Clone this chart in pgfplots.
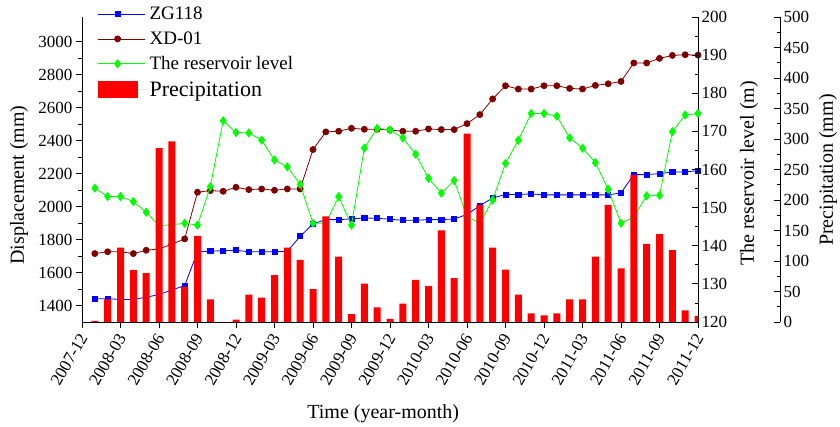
\documentclass[border=0pt]{standalone}
\usepackage{fontspec}
\setmainfont{Liberation Serif}
\usepackage{pgfplots}
\usepackage{pgfplotstable}
\pgfplotsset{compat=1.18}

% Monthly monitoring record, 2008-01 (month 1) to 2011-12 (month 48)
\pgfplotstableread{
month zg   xd   res   pre
1     1441 1715 155.1 2
2     1441 1726 152.9 37
3     1437 1726 152.9 122
4     1437 1715 151.6 85
5     1450 1735 148.8 80
6     1467 1743 145.3 285
7     1494 1772 145.5 296
8     1521 1804 145.9 58
9     1726 2087 145.4 141
10    1729 2097 155.5 37
11    1733 2093 172.8 0
12    1735 2117 169.7 4
13    1726 2103 169.6 45
14    1726 2107 167.7 40
15    1726 2099 162.5 77
16    1729 2107 160.7 122
17    1820 2107 156.1 102
18    1895 2346 145.9 54
19    1921 2453 145.9 173
20    1921 2457 152.9 107
21    1925 2475 145.4 13
22    1931 2469 165.6 63
23    1929 2469 170.8 24
24    1923 2465 170.4 5
25    1917 2457 168.3 30
26    1917 2457 164.0 69
27    1921 2471 157.7 59
28    1921 2467 153.8 150
29    1925 2467 157.1 72
30    1952 2503 147.6 309
31    2006 2558 146.0 192
32    2053 2653 152.0 122
33    2073 2733 161.6 86
34    2073 2713 167.7 45
35    2077 2713 174.7 14
36    2071 2733 174.7 11
37    2071 2733 174.0 14
38    2071 2717 168.3 37
39    2071 2713 165.6 37
40    2071 2735 161.8 107
41    2071 2745 154.8 192
42    2083 2759 145.9 88
43    2194 2871 147.6 241
44    2194 2871 153.1 128
45    2200 2899 153.2 144
46    2210 2917 169.9 118
47    2210 2921 174.3 19
48    2218 2919 174.7 10
}\monitoring

\definecolor{zgblue}{RGB}{0,0,255}
\definecolor{xdred}{RGB}{128,0,0}
\definecolor{reslime}{RGB}{0,255,0}
\definecolor{prered}{RGB}{255,0,0}

\newcommand{\tickfont}{\rmfamily\fontsize{17}{20}\selectfont}
\newcommand{\labelfont}{\rmfamily\fontsize{20}{24}\selectfont}

\pgfplotsset{
  frame/.style={
    scale only axis, width=616pt, height=305pt,
    xmin=0, xmax=48,
    anchor=south west,
    major tick length=6pt, minor tick length=3.5pt,
    every tick/.style={black, line width=0.8pt},
    axis line style={black, line width=0.9pt},
    tick label style={font=\tickfont},
    /pgf/number format/assume math mode=true,
    /pgf/number format/1000 sep={},
  },
  series/.style={line width=0.8pt, #1, mark options={fill=#1, draw=#1, solid}},
}

\begin{document}
\begin{tikzpicture}

% Displacement of the two monitoring points
\begin{axis}[frame, at={(0pt,0pt)},
  axis lines*=left, tick align=outside,
  ymin=1300, ymax=3150,
  ytick={1400,1600,...,3000}, minor y tick num=1,
  xtick={0,3,...,48},
  xticklabels={2007-12,2008-03,2008-06,2008-09,2008-12,2009-03,2009-06,2009-09,
    2009-12,2010-03,2010-06,2010-09,2010-12,2011-03,2011-06,2011-09,2011-12},
  xticklabel style={yshift=-4pt, xshift=3pt, rotate=60, anchor=east},
  xlabel={Time (year-month)},
  xlabel style={font=\labelfont, at={(axis description cs:0.489,-0.302)}, anchor=center},
  ylabel={Displacement (mm)},
  ylabel style={font=\labelfont, at={(axis description cs:-0.102,0.449)}, anchor=center},
  clip mode=individual,
]
\addplot[series=zgblue, mark=square*, mark size=2.6pt] table[x=month, y=zg] {\monitoring};
\addplot[series=xdred, mark=*, mark size=3pt] table[x=month, y=xd] {\monitoring};
\end{axis}

% Reservoir water level
\begin{axis}[frame, at={(0pt,0pt)},
  hide x axis, axis y line*=right, tick align=inside,
  ymin=120, ymax=200,
  ytick={120,130,...,200}, minor y tick num=1,
  ylabel={The reservoir level (m)},
  ylabel style={font=\labelfont, at={(axis description cs:1.083,0.487)}, anchor=center},
  clip mode=individual,
]
\addplot[series=reslime, mark=diamond*, mark size=4pt] table[x=month, y=res] {\monitoring};
\end{axis}

% Monthly precipitation bars, drawn over the curves
\begin{axis}[frame, at={(0pt,0pt)},
  hide axis, ymin=0, ymax=500,
  legend cell align=left,
  legend style={draw=none, fill=none, font=\rmfamily\fontsize{19}{22}\selectfont,
    at={(rel axis cs:0,1)}, anchor=north west, xshift=13pt, yshift=14pt,
    row sep=6.5pt, inner sep=2pt},
  legend image code/.code={\draw[mark repeat=2, mark phase=2, #1]
    plot coordinates {(0pt,0pt) (20pt,0pt) (40pt,0pt)};
    \path (0pt,0pt) -- (47pt,0pt);},
]
\addlegendimage{series=zgblue, mark=square*, mark size=2.6pt}
\addlegendentry{ZG118}
\addlegendimage{series=xdred, mark=*, mark size=3pt}
\addlegendentry{XD-01}
\addlegendimage{series=reslime, mark=diamond*, mark size=4pt}
\addlegendentry{The reservoir level}
\addplot[ybar, bar width=7pt, fill=prered, draw=none,
  legend image code/.code={\fill[prered] (0pt,-8.5pt) rectangle (40pt,8.5pt);
    \path (0pt,0pt) -- (50pt,0pt);}]
  table[x=month, y=pre] {\monitoring};
\addlegendentry{\fontsize{22}{24}\selectfont Precipitation}
\end{axis}

% Separate scale for precipitation
\begin{axis}[frame, at={(82pt,0pt)},
  hide x axis, axis y line*=right, tick align=inside,
  ymin=0, ymax=500,
  ytick={0,50,...,500}, minor y tick num=1,
  ylabel={Precipitation (mm)},
  ylabel style={font=\labelfont, at={(axis description cs:1.078,0.498)}, anchor=center},
]
\end{axis}

\pgfresetboundingbox
\path[use as bounding box] (-82pt,-105pt) rectangle (758pt,322pt);
\end{tikzpicture}
\end{document}
